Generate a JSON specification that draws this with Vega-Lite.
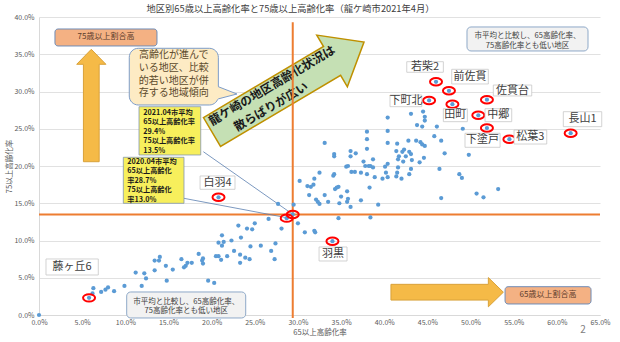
{
 "$schema": "https://vega.github.io/schema/vega-lite/v6.json",
 "width": 561, "height": 298,
 "autosize": {"type": "none"},
 "padding": {"left": 39, "top": 17, "right": 20, "bottom": 27},
 "background": "white",
 "config": {"font": "Noto Sans CJK JP", "view": {"stroke": null}},
 "title": {"text": "地区別65歳以上高齢化率と75歳以上高齢化率（龍ケ崎市2021年4月）", "fontSize": 9.3, "fontWeight": "normal", "color": "#404040", "anchor": "middle", "offset": -1, "dx": -29},
 "datasets": {
  "points": [
   {"x":0,"y":0},
   {"x":33.1,"y":23.1},{"x":34.2,"y":21.6},{"x":34.2,"y":21.3},{"x":36.1,"y":22.0},{"x":36.1,"y":21.3},{"x":36.7,"y":21.7},{"x":38.0,"y":24.6},{"x":38.0,"y":23.6},{"x":38.0,"y":22.3},{"x":38.7,"y":20.9},{"x":40.4,"y":26.5},{"x":40.4,"y":24.7},{"x":40.4,"y":23.1},
   {"x":32.5,"y":19.1},{"x":31.9,"y":18.3},{"x":30.2,"y":18.0},{"x":31.1,"y":17.3},{"x":31.5,"y":17.2},{"x":31.8,"y":17.5},{"x":31.3,"y":16.1},{"x":32.1,"y":15.5},{"x":32.3,"y":15.2},{"x":32.5,"y":14.9},{"x":33.1,"y":16.1},{"x":33.5,"y":15.2},{"x":34.1,"y":18.7},{"x":34.2,"y":18.9},{"x":34.3,"y":16.9},{"x":34.5,"y":17.1},{"x":34.7,"y":17.2},{"x":35.0,"y":15.9},{"x":34.8,"y":15.0},{"x":35.7,"y":16.6},{"x":35.8,"y":15.6},{"x":35.7,"y":15.2},{"x":36.1,"y":14.5},{"x":35.6,"y":19.9},{"x":35.8,"y":20.0},{"x":36.2,"y":19.2},{"x":36.6,"y":19.2},{"x":37.3,"y":19.1},{"x":37.6,"y":20.6},{"x":37.8,"y":20.0},{"x":38.2,"y":20.0},{"x":38.0,"y":18.9},{"x":38.4,"y":20.0},{"x":38.7,"y":19.8},{"x":38.9,"y":18.5},{"x":38.3,"y":17.1},{"x":37.3,"y":15.4},{"x":39.3,"y":14.8},{"x":39.8,"y":18.3},{"x":40.4,"y":18.5},{"x":40.4,"y":20.3},{"x":40.1,"y":19.9},{"x":40.2,"y":19.1},{"x":29.5,"y":14.8},{"x":30.0,"y":12.3},{"x":30.8,"y":11.1},{"x":31.9,"y":11.3},{"x":32.0,"y":11.1},{"x":34.7,"y":13.0},{"x":38.4,"y":13.1},{"x":28.1,"y":11.6},
   {"x":43.1,"y":27.0},{"x":44.5,"y":27.3},{"x":44.7,"y":26.6},{"x":44.7,"y":26.1},{"x":43.8,"y":25.5},{"x":44.4,"y":25.3},{"x":46.1,"y":25.3},{"x":49.1,"y":25.0},{"x":41.5,"y":23.0},{"x":42.8,"y":23.4},{"x":43.7,"y":23.4},{"x":44.2,"y":23.2},{"x":44.4,"y":22.9},{"x":44.7,"y":22.7},{"x":45.8,"y":24.0},{"x":46.6,"y":23.4},{"x":41.4,"y":22.0},{"x":42.1,"y":21.9},{"x":42.3,"y":22.2},{"x":42.9,"y":21.9},{"x":43.1,"y":21.6},{"x":41.7,"y":21.3},{"x":42.5,"y":21.3},{"x":42.2,"y":20.6},{"x":41.6,"y":20.9},{"x":41.6,"y":19.8},{"x":43.2,"y":20.8},{"x":44.6,"y":21.1},{"x":44.1,"y":20.5},{"x":47.0,"y":21.7},{"x":49.8,"y":21.5},{"x":41.5,"y":19.1},{"x":42.0,"y":18.3},{"x":41.4,"y":18.6},{"x":43.1,"y":19.6},{"x":42.9,"y":18.9},{"x":46.4,"y":19.6},{"x":48.7,"y":18.9},{"x":49.0,"y":18.4},{"x":53.2,"y":16.9},{"x":50.7,"y":16.3},{"x":51.5,"y":15.8},{"x":46.6,"y":15.7},
   {"x":27.7,"y":14.9},{"x":26.6,"y":12.9},{"x":25.0,"y":12.3},{"x":24.7,"y":11.5},{"x":24.1,"y":11.6},{"x":23.1,"y":12.0},{"x":21.2,"y":10.7},{"x":21.4,"y":9.8},{"x":20.8,"y":9.7},{"x":21.2,"y":9.3},{"x":22.3,"y":10.0},{"x":23.4,"y":10.4},{"x":22.6,"y":8.6},{"x":23.3,"y":8.1},{"x":23.9,"y":7.7},{"x":24.4,"y":7.5},{"x":23.3,"y":7.0},{"x":24.5,"y":9.2},{"x":25.7,"y":9.3},{"x":26.9,"y":8.6},{"x":27.4,"y":9.6},{"x":27.3,"y":7.5},{"x":20.5,"y":7.9},{"x":20.8,"y":7.9},{"x":21.1,"y":7.4},{"x":21.8,"y":7.9},{"x":18.5,"y":8.2},{"x":19.0,"y":7.6},{"x":18.9,"y":7.3},{"x":19.0,"y":6.9},{"x":16.5,"y":7.5},{"x":17.2,"y":7.0},{"x":17.7,"y":7.0},{"x":17.0,"y":6.6},{"x":16.8,"y":6.4},
   {"x":13.4,"y":7.3},{"x":13.9,"y":7.3},{"x":14.0,"y":7.8},{"x":14.7,"y":6.6},{"x":13.4,"y":6.0},{"x":15.5,"y":6.1},{"x":11.2,"y":5.7},{"x":12.2,"y":5.6},{"x":12.4,"y":4.9},{"x":11.9,"y":3.9},{"x":14.8,"y":4.6},{"x":9.9,"y":3.9},{"x":19.6,"y":4.6},{"x":20.3,"y":4.3},{"x":6.3,"y":3.6},{"x":6.2,"y":2.9},{"x":7.2,"y":3.1},{"x":7.7,"y":3.4},{"x":8.0,"y":3.7},{"x":8.7,"y":3.2},
   {"x":46.0,"y":31.3,"name":"若柴2"},{"x":47.5,"y":30.1,"name":"前佐貫"},{"x":51.9,"y":28.9,"name":"佐貫台"},{"x":45.2,"y":28.8,"name":"下町北"},{"x":47.9,"y":28.3,"name":"田町"},{"x":50.9,"y":26.8,"name":"中郷"},{"x":51.9,"y":25.1,"name":"下塗戸"},{"x":54.5,"y":23.6,"name":"松葉3"},{"x":61.6,"y":24.4,"name":"長山1"},{"x":20.8,"y":15.8,"name":"白羽4"},{"x":34.0,"y":9.9,"name":"羽黒"},{"x":5.8,"y":2.3,"name":"藤ヶ丘6"},{"x":28.7,"y":13.0,"name":"2020.04市平均"},{"x":29.4,"y":13.5,"name":"2021.04市平均"}
  ],
  "labelBoxes": [
   {"x":42.61,"x2":46.85,"y":34.0,"y2":32.58},{"x":47.82,"x2":52.06,"y":32.98,"y2":31.01},{"x":52.64,"x2":57.09,"y":30.87,"y2":29.4},{"x":40.67,"x2":44.35,"y":29.53,"y2":27.96},{"x":46.85,"x2":49.63,"y":27.69,"y2":25.95},{"x":51.68,"x2":54.77,"y":27.69,"y2":25.95},{"x":49.36,"x2":53.42,"y":24.39,"y2":22.51},{"x":55.04,"x2":58.83,"y":24.83,"y2":22.95},{"x":60.75,"x2":65.2,"y":27.29,"y2":25.28},{"x":18.66,"x2":22.71,"y":18.66,"y2":16.87},{"x":32.45,"x2":35.69,"y":9.13,"y2":7.25},{"x":0.81,"x2":6.87,"y":7.52,"y2":5.37}
  ],
  "labelTexts": [
   {"x":44.73,"y":33.29,"t":"若柴2"},{"x":49.94,"y":31.99,"t":"前佐貫"},{"x":54.87,"y":30.13,"t":"佐貫台"},{"x":42.51,"y":28.75,"t":"下町北"},{"x":48.24,"y":26.82,"t":"田町"},{"x":53.22,"y":26.82,"t":"中郷"},{"x":51.39,"y":23.45,"t":"下塗戸"},{"x":56.93,"y":23.89,"t":"松葉3"},{"x":62.98,"y":26.28,"t":"長山1"},{"x":20.68,"y":17.76,"t":"白羽4"},{"x":34.07,"y":8.19,"t":"羽黒"},{"x":3.82,"y":6.44,"t":"藤ヶ丘6"}
  ]
 },
 "encoding": {
  "x": {"field": "x", "type": "quantitative", "title": "65以上高齢化率",
   "scale": {"domain": [0, 65], "nice": false, "zero": false},
   "axis": {"values": [0,5,10,15,20,25,30,35,40,45,50,55,60,65], "labelExpr": "format(datum.value/100,'.1%')", "labelFontSize": 7, "labelColor": "#595959", "ticks": false, "grid": false, "domainColor": "#D9D9D9", "labelPadding": 3, "titleFontSize": 7.5, "titleFontWeight": "normal", "titleColor": "#595959", "titlePadding": 3, "labelFlush": false}},
  "y": {"field": "y", "type": "quantitative", "title": "75以上高齢化率",
   "scale": {"domain": [0, 40], "nice": false, "zero": false},
   "axis": {"values": [0,5,10,15,20,25,30,35,40], "labelExpr": "format(datum.value/100,'.1%')", "labelFontSize": 7, "labelColor": "#595959", "ticks": false, "grid": true, "gridColor": "#D9D9D9", "gridWidth": 0.8, "domainColor": "#D9D9D9", "labelPadding": 5, "titleFontSize": 7.5, "titleFontWeight": "normal", "titleColor": "#595959", "titlePadding": 0}}
 },
 "layer": [
  {"data": {"values": [{"x": 28.85, "y": 30.6}]},
   "mark": {"type": "point", "shape": "M-1,-0.19 L0.58,-0.19 L0.58,-0.34 L1,0 L0.58,0.34 L0.58,0.19 L-1,0.19 Z", "size": 31188, "angle": -30.6, "filled": true, "fill": "#C5E0B4", "stroke": "#BF9000", "strokeWidth": 1.5, "opacity": 1}},
  {"data": {"values": [{"x": 26.99, "y": 30.79, "t": "龍ケ崎の地区高齢化状況は"}, {"x": 26.88, "y": 27.95, "t": "散らばりが広い"}]},
   "mark": {"type": "text", "angle": -30.6, "fontSize": 12, "fontWeight": "bold", "color": "#1a1a1a"},
   "encoding": {"text": {"field": "t"}}},
  {"data": {"values": [{"x": 0, "x2": 65, "y": 13.5}]},
   "mark": {"type": "rule", "color": "#ED7D31", "strokeWidth": 2},
   "encoding": {"x2": {"field": "x2"}}},
  {"data": {"values": [{"x": 29.4, "y": -0.4, "y2": 39.3}]},
   "mark": {"type": "rule", "color": "#ED7D31", "strokeWidth": 2},
   "encoding": {"y2": {"field": "y2"}}},
  {"data": {"values": [{"x": 19.04, "y": 21.92, "x2": 29.3, "y2": 13.6}, {"x": 16.8, "y": 15.66, "x2": 28.5, "y2": 13.1}]},
   "mark": {"type": "rule", "color": "#5B7FB0", "strokeWidth": 0.8},
   "encoding": {"x2": {"field": "x2"}, "y2": {"field": "y2"}}},
  {"data": {"name": "points"},
   "mark": {"type": "point", "shape": "circle", "filled": true, "size": 18, "color": "#5B9BD5", "opacity": 1}},
  {"data": {"name": "points"},
   "transform": [{"filter": "isValid(datum.name)"}],
   "mark": {"type": "point", "shape": "M-1,0 C-1,-0.34 -0.55,-0.62 0,-0.62 C0.55,-0.62 1,-0.34 1,0 C1,0.34 0.55,0.62 0,0.62 C-0.55,0.62 -1,0.34 -1,0 Z", "size": 144, "filled": false, "stroke": "#FF0000", "strokeWidth": 2, "opacity": 1}},
  {"data": {"name": "labelBoxes"},
   "mark": {"type": "rect", "fill": "#FFFFFF", "stroke": "#C8C8C8", "strokeWidth": 0.8},
   "encoding": {"x2": {"field": "x2"}, "y2": {"field": "y2"}}},
  {"data": {"name": "labelTexts"},
   "mark": {"type": "text", "fontSize": 11, "color": "#404040"},
   "encoding": {"text": {"field": "t"}}},
  {"data": {"values": [{"x": 11.59, "x2": 18.74, "y": 27.96, "y2": 21.48}, {"x": 9.77, "x2": 16.8, "y": 21.17, "y2": 14.99}]},
   "mark": {"type": "rect", "fill": "#F7EF5C", "stroke": "#8497B0", "strokeWidth": 0.8},
   "encoding": {"x2": {"field": "x2"}, "y2": {"field": "y2"}}},
  {"data": {"values": [
    {"x": 12.08, "y": 27.11, "t": "2021.04市平均"}, {"x": 12.08, "y": 25.85, "t": "65以上高齢化率"}, {"x": 12.08, "y": 24.59, "t": "29.4%"}, {"x": 12.08, "y": 23.33, "t": "75以上高齢化率"}, {"x": 12.08, "y": 22.07, "t": "13.5%"},
    {"x": 10.23, "y": 20.54, "t": "2020.04市平均"}, {"x": 10.23, "y": 19.27, "t": "65以上高齢化"}, {"x": 10.23, "y": 18.01, "t": "率28.7%"}, {"x": 10.23, "y": 16.75, "t": "75以上高齢化"}, {"x": 10.23, "y": 15.49, "t": "率13.0%"}]},
   "mark": {"type": "text", "align": "left", "baseline": "middle", "fontSize": 7.2, "fontWeight": "bold", "color": "#1a1a1a"},
   "encoding": {"text": {"field": "t"}}},
  {"data": {"values": [{"x": 10.46, "x2": 20.78, "y": 35.8, "y2": 28.19}]},
   "mark": {"type": "rect", "cornerRadius": 9, "fill": "#FDEBC4", "stroke": "#7C9CC9", "strokeWidth": 1},
   "encoding": {"x2": {"field": "x2"}, "y2": {"field": "y2"}}},
  {"data": {"values": [{"x": 21.78, "y": 29.8}]},
   "mark": {"type": "point", "shape": "M-1.3,-0.8 L1,0.1 L-1.3,0.7 Z", "size": 400, "filled": true, "fill": "#FDEBC4", "strokeWidth": 0, "opacity": 1}},
  {"data": {"values": [{"x": 21.78, "y": 29.8}]},
   "mark": {"type": "point", "shape": "M-0.87,-0.63 L1,0.1 L-0.87,0.59", "size": 400, "filled": false, "stroke": "#7C9CC9", "strokeWidth": 1, "opacity": 1}},
  {"data": {"values": [{"x": 15.62, "y": 34.9, "t": "高齢化が進んで"}, {"x": 15.62, "y": 33.18, "t": "いる地区、比較"}, {"x": 15.62, "y": 31.46, "t": "的若い地区が併"}, {"x": 15.62, "y": 29.74, "t": "存する地域傾向"}]},
   "mark": {"type": "text", "fontSize": 10, "baseline": "middle", "color": "#5c4a2c"},
   "encoding": {"text": {"field": "t"}}},
  {"data": {"values": [{"x": 1.85, "x2": 13.67, "y": 38.39, "y2": 36.11}, {"x": 54.0, "x2": 63.96, "y": 3.8, "y2": 1.48}]},
   "mark": {"type": "rect", "cornerRadius": 3, "fill": "#F4B183", "stroke": "#6F8DB8", "strokeWidth": 1},
   "encoding": {"x2": {"field": "x2"}, "y2": {"field": "y2"}}},
  {"data": {"values": [{"x": 7.76, "y": 37.25, "t": "75歳以上割合高"}, {"x": 58.98, "y": 2.64, "t": "65歳以上割合高"}]},
   "mark": {"type": "text", "fontSize": 8, "color": "#5b3b2b"},
   "encoding": {"text": {"field": "t"}}},
  {"data": {"values": [{"x": 49.59, "x2": 63.61, "y": 38.66, "y2": 35.44}, {"x": 10.16, "x2": 23.95, "y": 3.09, "y2": -0.4}]},
   "mark": {"type": "rect", "cornerRadius": 4, "fill": "#F2F2F2", "stroke": "#8EA9C8", "strokeWidth": 1},
   "encoding": {"x2": {"field": "x2"}, "y2": {"field": "y2"}}},
  {"data": {"values": [{"x": 56.6, "y": 37.45, "t": "市平均と比較し、65高齢化率、"}, {"x": 56.6, "y": 36.17, "t": "75高齢化率とも低い地区"}, {"x": 17.06, "y": 1.79, "t": "市平均と比較し、65高齢化率、"}, {"x": 17.06, "y": 0.51, "t": "75高齢化率とも低い地区"}]},
   "mark": {"type": "text", "fontSize": 7.5, "baseline": "middle", "color": "#404040"},
   "encoding": {"text": {"field": "t"}}},
  {"data": {"values": [{"x": 6.06, "y": 28.12}]},
   "mark": {"type": "point", "shape": "M0,-1 L0.26,-0.733 L0.14,-0.733 L0.14,1 L-0.14,1 L-0.14,-0.733 L-0.26,-0.733 Z", "size": 12634, "filled": true, "fill": "#F5BA47", "stroke": "#D9A23A", "strokeWidth": 1, "opacity": 1}},
  {"data": {"values": [{"x": 47.29, "y": 3.06}]},
   "mark": {"type": "point", "shape": "M0,-1 L0.26,-0.733 L0.14,-0.733 L0.14,1 L-0.14,1 L-0.14,-0.733 L-0.26,-0.733 Z", "size": 12634, "angle": 90, "filled": true, "fill": "#F5BA47", "stroke": "#D9A23A", "strokeWidth": 1, "opacity": 1}},
  {"data": {"values": [{"x": 63.04, "y": -2.0, "t": "2"}]},
   "mark": {"type": "text", "fontSize": 10, "color": "#808080"},
   "encoding": {"text": {"field": "t"}}}
 ]
}
